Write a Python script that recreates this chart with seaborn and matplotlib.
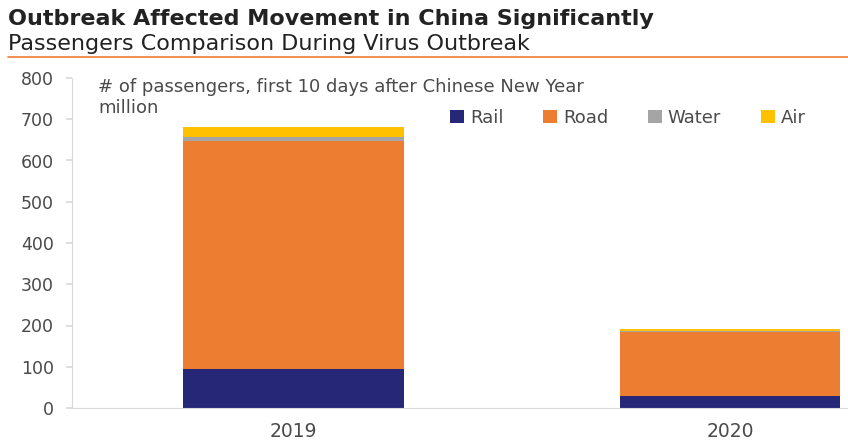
import pandas as pd
import matplotlib.pyplot as plt
import seaborn as sns

# data (million passengers, first 10 days after Chinese New Year)
years = ['2019', '2020']
modes = ['Rail', 'Road', 'Water', 'Air']
rail = [95, 30]
road = [552, 154]
water = [10, 2]
air = [24, 6]
colors = ['#262877', '#ED7D31', '#A5A5A5', '#FFC000']

df = pd.DataFrame({'year': years, 'Rail': rail, 'Road': road, 'Water': water, 'Air': air})

sns.set_theme(style='white')
plt.rcParams['font.family'] = ['DejaVu Sans']

fig = plt.figure(figsize=(8.48, 4.4), dpi=100)
ax = fig.add_axes([72 / 848, 1 - 408 / 440, 776 / 848, 330 / 440])

bottom = pd.Series([0] * len(df))
for mode, c in zip(modes, colors):
    sns.barplot(x=df['year'], y=df[mode], bottom=bottom, color=c, width=0.505,
                label=mode, ax=ax, saturation=1, edgecolor='none', linewidth=0)
    bottom = bottom + df[mode]

ax.set_xlim(-0.507, 1.27)
ax.set_ylim(0, 800)
ax.set_yticks(range(0, 801, 100))
ax.set_xlabel('')
ax.set_ylabel('')
for s in ['top', 'right']:
    ax.spines[s].set_visible(False)
for s in ['left', 'bottom']:
    ax.spines[s].set_color('#D9D9D9')
    ax.spines[s].set_linewidth(0.8)
ax.tick_params(axis='y', length=4, color='#D9D9D9', labelsize=12.5, labelcolor='#4a4a4a', pad=9, left=True)
ax.tick_params(axis='x', length=0, labelsize=13.5, labelcolor='#4a4a4a', pad=10)

# note, two lines as separate texts
ax.text(0.034, 0.973, '# of passengers, first 10 days after Chinese New Year',
        transform=ax.transAxes, ha='left', va='center', fontsize=13, color='#4a4a4a')
ax.text(0.034, 0.91, 'million',
        transform=ax.transAxes, ha='left', va='center', fontsize=13, color='#4a4a4a')

ax.legend(loc='center right', bbox_to_anchor=(0.955, 0.88), ncol=4, frameon=False,
          fontsize=13, handlelength=0.75, handleheight=0.75, handletextpad=0.35,
          columnspacing=2.2, labelcolor='#4a4a4a', borderaxespad=0)

fig.text(8 / 848, 1 - 25 / 440, 'Outbreak Affected Movement in China Significantly',
         fontsize=16, fontweight='bold', color='#222222', ha='left', va='baseline')
fig.text(8 / 848, 1 - 49.5 / 440, 'Passengers Comparison During Virus Outbreak',
         fontsize=16, color='#222222', ha='left', va='baseline')
fig.add_artist(plt.Line2D([8 / 848, 1], [1 - 57 / 440, 1 - 57 / 440], color='#ED7D31', lw=1.2,
                          transform=fig.transFigure))

fig.savefig('out.png', dpi=100)
